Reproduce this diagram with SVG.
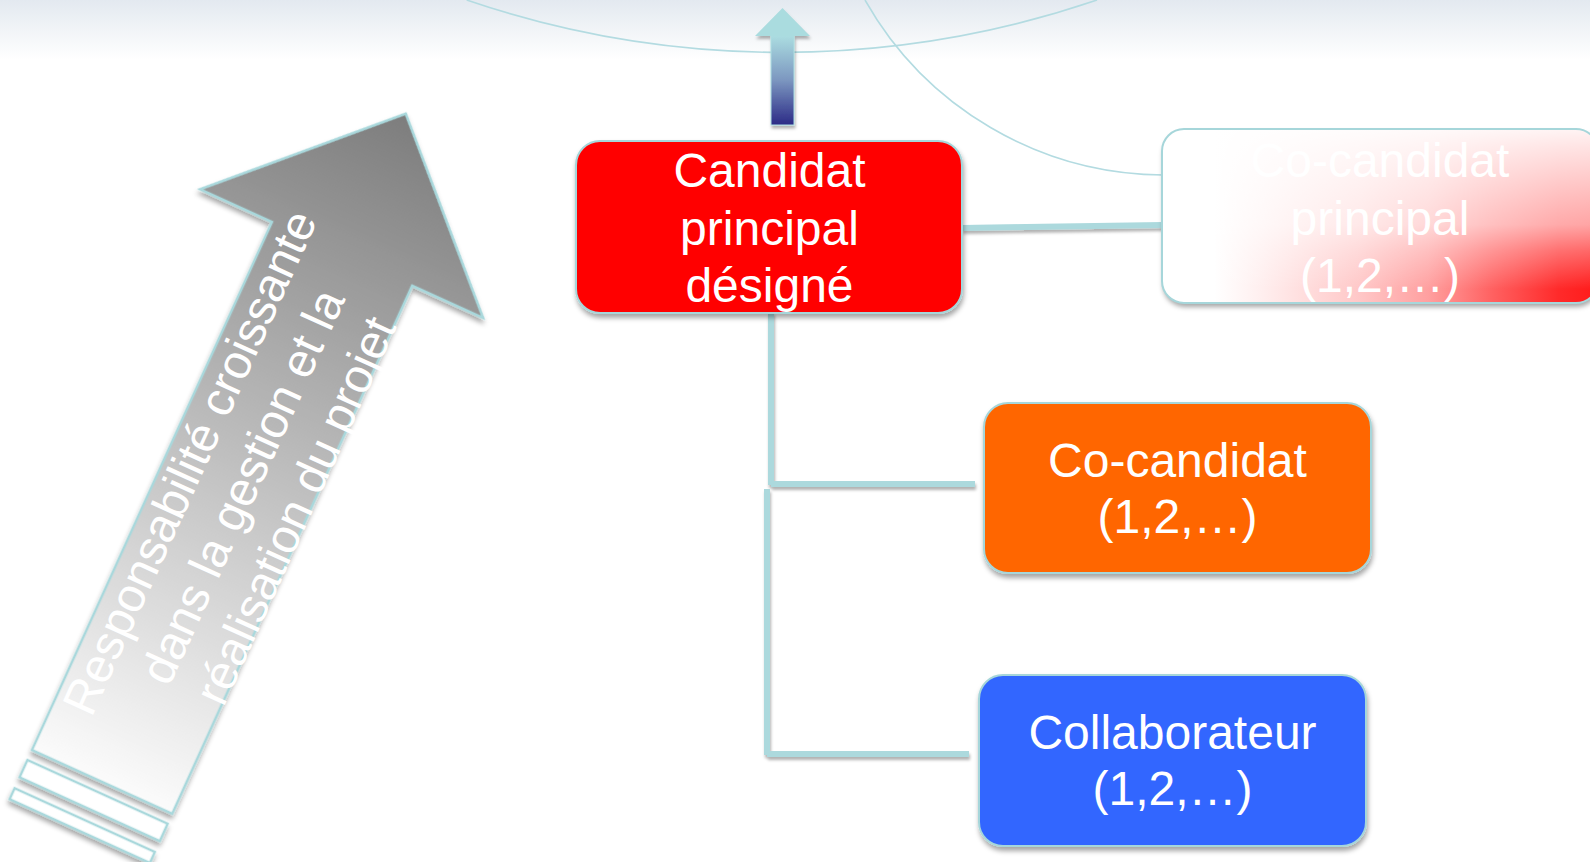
<svg xmlns="http://www.w3.org/2000/svg" width="1590" height="862" viewBox="0 0 1590 862">
<defs>
<style>
.lbl{font-family:"Liberation Sans",Arial,sans-serif;font-size:48px;fill:#ffffff;text-anchor:middle}
.box{stroke:#a6d6da;stroke-width:2}
.conn{fill:none;stroke:#acd9dd;stroke-width:6}
.arc{fill:none;stroke:#b3dbe1;stroke-width:1.6}
</style>
<linearGradient id="gTop" x1="0" y1="0" x2="0" y2="1">
<stop offset="0" stop-color="#e3e9f0"/>
<stop offset="0.35" stop-color="#edf1f5"/>
<stop offset="1" stop-color="#ffffff"/>
</linearGradient>
<linearGradient id="gArrow" gradientUnits="userSpaceOnUse" x1="0" y1="0" x2="0" y2="-734">
<stop offset="0" stop-color="#fbfbfb"/>
<stop offset="1" stop-color="#7d7d7d"/>
</linearGradient>
<linearGradient id="gUp" gradientUnits="userSpaceOnUse" x1="0" y1="35" x2="0" y2="125">
<stop offset="0" stop-color="#acdee1"/>
<stop offset="0.5" stop-color="#7c97c0"/>
<stop offset="1" stop-color="#2b2a86"/>
</linearGradient>
<linearGradient id="gFadeH" x1="0" y1="0" x2="1" y2="0">
<stop offset="0" stop-color="#ffffff"/>
<stop offset="0.12" stop-color="#ffffff"/>
<stop offset="0.22" stop-color="#fff0f0"/>
<stop offset="0.45" stop-color="#ffc8c8"/>
<stop offset="0.61" stop-color="#ffa0a0"/>
<stop offset="0.76" stop-color="#ff6060"/>
<stop offset="0.91" stop-color="#ff2a2a"/>
<stop offset="1" stop-color="#ff1a1a"/>
</linearGradient>
<linearGradient id="gFadeV" x1="0" y1="0" x2="0" y2="1">
<stop offset="0" stop-color="#ffffff" stop-opacity="0.95"/>
<stop offset="0.1" stop-color="#ffffff" stop-opacity="0.88"/>
<stop offset="0.55" stop-color="#ffffff" stop-opacity="0.6"/>
<stop offset="0.7" stop-color="#ffffff" stop-opacity="0.33"/>
<stop offset="0.92" stop-color="#ffffff" stop-opacity="0"/>
</linearGradient>
<clipPath id="clipFade">
<rect x="1162" y="129" width="436" height="174" rx="22"/>
</clipPath>
<filter id="sh" x="-10%" y="-10%" width="125%" height="135%">
<feDropShadow dx="1" dy="4" stdDeviation="2.5" flood-color="#000" flood-opacity="0.35"/>
</filter>
<filter id="shl" filterUnits="userSpaceOnUse" x="0" y="0" width="1590" height="862">
<feDropShadow dx="1" dy="3" stdDeviation="1.5" flood-color="#000" flood-opacity="0.3"/>
</filter>
</defs>
<rect x="0" y="0" width="1590" height="862" fill="#ffffff"/>
<rect x="0" y="0" width="1590" height="60" fill="url(#gTop)"/>
<path class="arc" d="M466.7,0 A975,975 0 0 0 1097,0"/>
<path class="arc" d="M865,0 A345,345 0 0 0 1163,175"/>

<g id="connectors" filter="url(#shl)">
<path class="conn" d="M962,228 L1163,225"/>
<path class="conn" d="M771,312 L771,485"/>
<path class="conn" d="M771,484 L975,484"/>
<path class="conn" d="M767,489 L767,755"/>
<path class="conn" d="M767,754 L969,754"/>
</g>

<g id="up-arrow" filter="url(#shl)">
<rect x="771" y="34" width="23" height="91" fill="url(#gUp)" stroke="#acdee1" stroke-width="1"/>
<polygon points="755,36 782.5,8 810,36" fill="#aadcdf"/>
</g>

<g id="responsabilite">
<g transform="translate(32,750) rotate(24.44)" filter="url(#sh)">
<path d="M0,0 L154,0 L154,-580 L232,-580 L77,-734 L-79,-580 L0,-580 Z" fill="url(#gArrow)" stroke="#a9d8dc" stroke-width="2.5" stroke-linejoin="miter"/>
<rect x="0" y="11" width="154" height="19" fill="#ffffff" stroke="#a9d8dc" stroke-width="2.5"/>
<rect x="0" y="42" width="154" height="12" fill="#ffffff" stroke="#a9d8dc" stroke-width="2.5"/>
</g>
<g transform="translate(167.3,452.3) rotate(-65.56)">
<text class="lbl" x="0" y="41">Responsabilité croissante</text>
<text class="lbl" x="0" y="99">dans la gestion et la</text>
<text class="lbl" x="0" y="157">réalisation du projet</text>
</g>
</g>

<g id="candidat-principal">
<rect class="box" x="576" y="141" width="386" height="172" rx="24" fill="#ff0000" filter="url(#sh)"/>
<text class="lbl" x="769.5" y="187">Candidat</text>
<text class="lbl" x="769.5" y="245">principal</text>
<text class="lbl" x="769.5" y="302">désigné</text>
</g>

<g id="co-candidat-principal">
<rect x="1162" y="129" width="436" height="174" rx="22" fill="#ffffff" filter="url(#sh)"/>
<g clip-path="url(#clipFade)">
<rect x="1162" y="129" width="436" height="174" fill="url(#gFadeH)"/>
<rect x="1162" y="129" width="436" height="174" fill="url(#gFadeV)"/>
</g>
<rect class="box" x="1162" y="129" width="436" height="174" rx="22" fill="none"/>
<text class="lbl" x="1380" y="177">Co-candidat</text>
<text class="lbl" x="1380" y="235">principal</text>
<text class="lbl" x="1380" y="292">(1,2,…)</text>
</g>

<g id="co-candidat">
<rect class="box" x="984" y="403" width="387" height="170" rx="24" fill="#ff6600" filter="url(#sh)"/>
<text class="lbl" x="1177.5" y="477">Co-candidat</text>
<text class="lbl" x="1177.5" y="533">(1,2,…)</text>
</g>

<g id="collaborateur">
<rect class="box" x="979" y="675" width="387" height="171" rx="24" fill="#3366ff" filter="url(#sh)"/>
<text class="lbl" x="1172.5" y="749">Collaborateur</text>
<text class="lbl" x="1172.5" y="805">(1,2,…)</text>
</g>
</svg>
